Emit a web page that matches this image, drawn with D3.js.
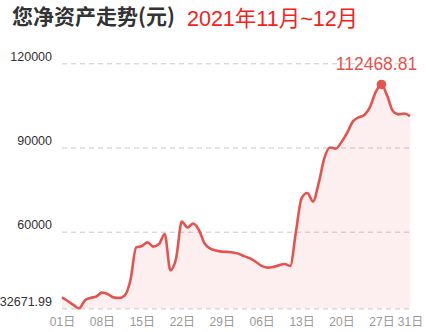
<!DOCTYPE html>
<html><head><meta charset="utf-8">
<script src="https://cdn.jsdelivr.net/npm/d3@7"></script>
<style>html,body{margin:0;padding:0;background:#fff;}svg{display:block;}</style>
</head><body>
<svg id="chart" width="426" height="332"></svg>
<script>
// ---- data ----
const title = "您净资产走势(元)";
const subtitle = "2021年11月~12月";
const dayIndex = d3.range(62);
const netAssets = [
  36600, 35300, 33900, 32671.99, 35500, 36400, 36900, 38300, 37800, 36600,
  36400, 37300, 42800, 54400, 54900, 56200, 54700, 55600, 59200, 46300,
  50500, 63600, 61500, 62900, 60600, 55800, 54000, 53300, 52900, 52800,
  52600, 52100, 51200, 50500, 49200, 47800, 47200, 47400, 48000, 48500,
  47800, 59900, 72000, 73800, 70800, 77400, 86300, 90000, 89600, 92000,
  95300, 99300, 100700, 101600, 104500, 109800, 112468.81, 108400, 103000, 101800,
  102100, 101200
];
const xTickIndex = [0, 7, 14, 21, 28, 35, 42, 49, 56, 61];
const xTickLabels = ["01日", "08日", "15日", "22日", "29日", "06日", "13日", "20日", "27日", "31日"];
const yTickValues = [32671.99, 60000, 90000, 120000];
const yTickLabels = ["32671.99", "60000", "90000", "120000"];

// ---- chart ----
const svg = d3.select("#chart");
const red = "#e5534f";
const x = d3.scaleLinear().domain([0, 61]).range([62, 410]);
const y = d3.scaleLinear().domain([32671.99, 120000]).range([308.4, 63.3]);
const data = dayIndex.map((d, i) => ({ i: d, v: netAssets[i] }));

// title
svg.append("text").attr("x", 12).attr("y", 24)
  .attr("font-family", "'Noto Sans CJK SC', sans-serif").attr("font-weight", "bold")
  .attr("font-size", 21).attr("fill", "#333").text(title);
svg.append("text").attr("x", 187).attr("y", 26)
  .attr("font-family", "'Liberation Sans', 'Noto Sans CJK SC', sans-serif")
  .attr("font-size", 21.5).attr("fill", "#f5221b").text(subtitle);

// grid + y labels
const yAxis = d3.axisLeft(y).tickValues(yTickValues)
  .tickSize(-(410 - 62)).tickPadding(10)
  .tickFormat((d, i) => yTickLabels[i]);
const gy = svg.append("g").attr("transform", "translate(62,0)").call(yAxis);
gy.select(".domain").remove();
gy.selectAll(".tick line").attr("stroke", "#c9c9c9").attr("stroke-dasharray", "5,4");
gy.selectAll(".tick text").attr("font-family", "'Liberation Sans', Arial, sans-serif")
  .attr("font-size", 12.5).attr("fill", "#333").attr("x", -10)
  .attr("dy", null).attr("y", -3);

// area + line
const area = d3.area().x(d => x(d.i)).y0(y(32671.99)).y1(d => y(d.v)).curve(d3.curveMonotoneX);
const line = d3.line().x(d => x(d.i)).y(d => y(d.v)).curve(d3.curveMonotoneX);
svg.append("path").datum(data).attr("d", area).attr("fill", red).attr("fill-opacity", 0.09);
svg.append("path").datum(data).attr("d", line).attr("fill", "none")
  .attr("stroke", red).attr("stroke-width", 2.6).attr("stroke-linejoin", "round");

// x labels
const xAxis = d3.axisBottom(x).tickValues(xTickIndex).tickSize(0).tickPadding(0)
  .tickFormat((d, i) => xTickLabels[i]);
const gx = svg.append("g").attr("transform", "translate(0,317)").call(xAxis);
gx.select(".domain").remove();
gx.selectAll(".tick text").attr("font-family", "'Liberation Sans', 'Noto Sans CJK SC', sans-serif")
  .attr("font-size", 12).attr("fill", "#999").attr("dy", "0.71em");

// peak marker
const peak = data.reduce((a, b) => (b.v > a.v ? b : a));
svg.append("circle").attr("cx", x(peak.i)).attr("cy", y(peak.v)).attr("r", 4.8).attr("fill", red);
svg.append("text").attr("x", x(peak.i) - 5).attr("y", 70).attr("text-anchor", "middle")
  .attr("font-family", "'Liberation Sans', Arial, sans-serif").attr("font-size", 17.5)
  .attr("fill", red).text(d3.format(".2f")(peak.v));
</script>
</body></html>
